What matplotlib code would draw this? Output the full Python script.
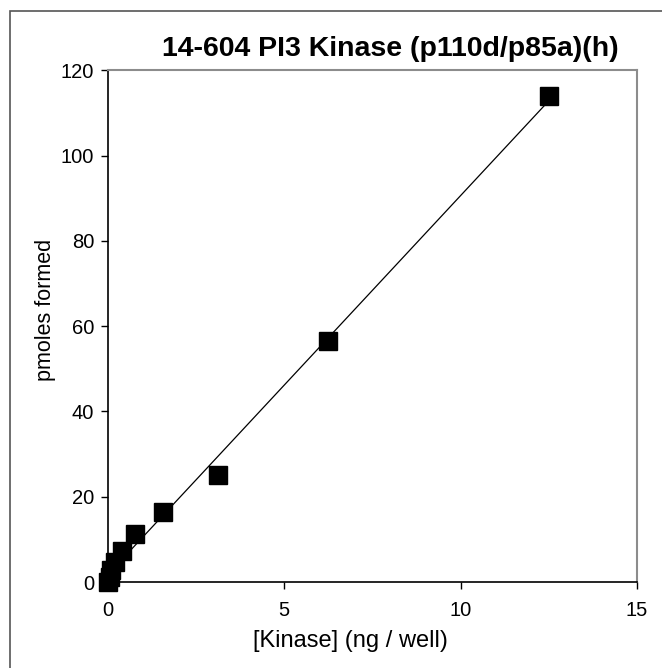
import numpy as np
import matplotlib
matplotlib.use("Agg")
import matplotlib.pyplot as plt
from matplotlib.patches import Rectangle

plt.rcParams['font.family'] = ['Liberation Sans', 'DejaVu Sans']

# kinase titration (2-fold dilutions)
kinase_ng = [12.5, 6.25, 3.125, 1.5625, 0.78, 0.39, 0.195, 0.098, 0.049, 0.0]
pmoles = [114.0, 56.5, 25.0, 16.5, 11.2, 7.3, 4.7, 2.8, 1.2, 0.0]
x_ticks = [0, 5, 10, 15]
y_ticks = [0, 20, 40, 60, 80, 100, 120]

fig = plt.figure(figsize=(6.62, 6.68), dpi=100)
ax = fig.add_axes([0.163, 0.1287, 0.799, 0.766])

# linear fit line
slope, intercept = np.polyfit(kinase_ng, pmoles, 1)
xs = np.array([min(kinase_ng), max(kinase_ng)])
ax.plot(xs, slope * xs + intercept, color="black", lw=0.9, zorder=2)

ax.plot(kinase_ng, pmoles, "s", color="black", markersize=13,
        clip_on=False, zorder=3)

ax.set_xlim(0, 15)
ax.set_ylim(0, 120)
ax.set_xticks(x_ticks)
ax.set_yticks(y_ticks)
ax.tick_params(direction="out", length=5, width=1, labelsize=14.5)
ax.tick_params(axis="x", pad=9)
ax.tick_params(axis="y", pad=5)

for s in ["top", "right"]:
    ax.spines[s].set_color("#8c8c8c")
    ax.spines[s].set_linewidth(1.5)
for s in ["left", "bottom"]:
    ax.spines[s].set_linewidth(1.2)

# labels placed in figure coords (offsets as in the original)
fig.text(390 / 662, 1 - 49 / 668, "14-604 PI3 Kinase (p110d/p85a)(h)",
         fontsize=20.5, fontweight="bold", ha="center", va="center")
fig.text(350 / 662, 1 - 641 / 668, "[Kinase] (ng / well)",
         fontsize=17, ha="center", va="center")
fig.text(45 / 662, 1 - 310 / 668, "pmoles formed", fontsize=15.5,
         rotation=90, ha="center", va="center")

# outer frame
fig.patches.append(Rectangle((10 / 662, -0.05), 1.1, (668 - 11) / 668 + 0.05,
                             transform=fig.transFigure, fill=False,
                             edgecolor="#555555", lw=1.2))

fig.savefig("out.png", dpi=100)
